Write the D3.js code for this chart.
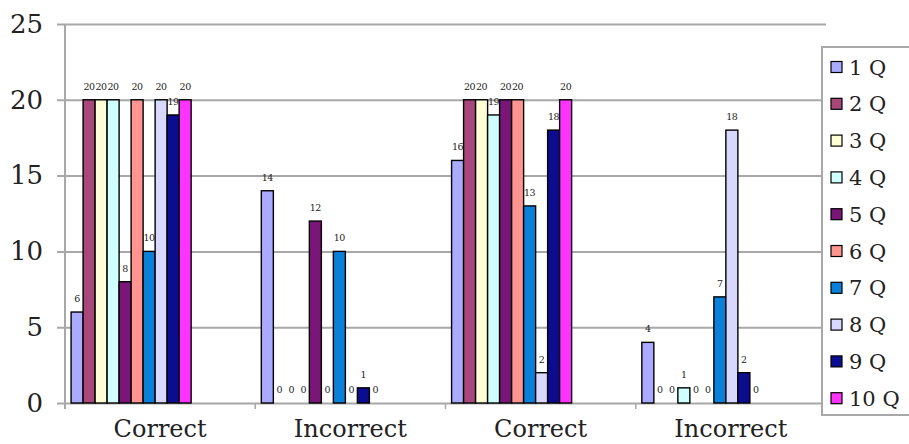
<!DOCTYPE html>
<html>
<head>
<meta charset="utf-8">
<script src="https://cdn.jsdelivr.net/npm/d3@7"></script>
<style>
  html, body { margin: 0; padding: 0; background: #fff; }
  svg { display: block; }
</style>
</head>
<body>
<script>
// groups along the x axis (the two test rounds)
const categories = ["Correct", "Incorrect", "Correct", "Incorrect"];
const series = ["1 Q", "2 Q", "3 Q", "4 Q", "5 Q", "6 Q", "7 Q", "8 Q", "9 Q", "10 Q"];
const colors = ["#aaaaff", "#a8487a", "#ffffd6", "#d0ffff", "#7a1678",
                "#ff9490", "#0a80d8", "#d8d8ff", "#0c0c90", "#ff33ff"];

// values per question for each group
const correctA   = [6, 20, 20, 20, 8, 20, 10, 20, 19, 20];
const incorrectA = [14, 0, 0, 0, 12, 0, 10, 0, 1, 0];
const correctB   = [16, 20, 20, 19, 20, 20, 13, 2, 18, 20];
const incorrectB = [4, 0, 0, 1, 0, 0, 7, 18, 2, 0];
const yTicks = [0, 5, 10, 15, 20, 25];

const groups = [correctA, incorrectA, correctB, incorrectB];

const width = 909, height = 444;
const margin = {top: 24, right: 83, bottom: 41, left: 65};
const serif = "'DejaVu Serif', serif";

const svg = d3.select("body").append("svg")
    .attr("width", width)
    .attr("height", height)
    .attr("viewBox", [0, 0, width, height]);

const x0 = d3.scaleBand()
    .domain(d3.range(categories.length))
    .range([margin.left, width - margin.right])
    .padding(0);

const x1 = d3.scaleBand()
    .domain(series)
    .range([x0.bandwidth() * 0.032, x0.bandwidth() * 0.663])
    .padding(0);

const y = d3.scaleLinear()
    .domain([0, 25])
    .range([height - margin.bottom, margin.top]);

// gridlines + y axis
const yAxis = svg.append("g")
    .attr("transform", `translate(${margin.left},0)`)
    .call(d3.axisLeft(y).tickValues(yTicks)
        .tickSize(-(width - margin.right - margin.left))
        .tickSizeOuter(0)
        .tickPadding(22));
yAxis.select(".domain").remove();
yAxis.selectAll(".tick line")
    .attr("x1", -8)
    .attr("stroke", "#a8a8a8")
    .attr("stroke-width", 2);
yAxis.selectAll(".tick text")
    .attr("font-family", serif)
    .attr("font-size", 26)
    .attr("fill", "#222");

svg.append("line")
    .attr("x1", margin.left).attr("x2", margin.left)
    .attr("y1", y(25)).attr("y2", y(0) + 6)
    .attr("stroke", "#a8a8a8")
    .attr("stroke-width", 2);

// x axis: ticks at group boundaries
const xAxis = svg.append("g")
    .attr("transform", `translate(0,${y(0)})`);
xAxis.selectAll("line.sep")
    .data(d3.range(categories.length + 1))
    .join("line")
      .attr("class", "sep")
      .attr("x1", i => margin.left + i * x0.step())
      .attr("x2", i => margin.left + i * x0.step())
      .attr("y1", 0).attr("y2", 6)
      .attr("stroke", "#a8a8a8")
      .attr("stroke-width", 1.5);
xAxis.selectAll("text")
    .data(categories)
    .join("text")
      .attr("x", (d, i) => x0(i) + x0.bandwidth() / 2)
      .attr("y", 34)
      .attr("text-anchor", "middle")
      .attr("font-family", serif)
      .attr("font-size", 24)
      .attr("fill", "#222")
      .text(d => d);

// bars
const g = svg.append("g")
  .selectAll("g")
  .data(groups)
  .join("g")
    .attr("transform", (d, i) => `translate(${x0(i)},0)`);

g.selectAll("rect")
  .data(d => d.map((v, j) => ({q: series[j], v, c: colors[j]})))
  .join("rect")
    .attr("x", d => x1(d.q))
    .attr("y", d => y(d.v))
    .attr("width", x1.bandwidth())
    .attr("height", d => y(0) - y(d.v))
    .attr("fill", d => d.c)
    .attr("stroke", "#000")
    .attr("stroke-width", 1.4);

g.selectAll("text")
  .data(d => d.map((v, j) => ({q: series[j], v})))
  .join("text")
    .attr("x", d => x1(d.q) + x1.bandwidth() / 2)
    .attr("y", d => y(d.v) - 10)
    .attr("text-anchor", "middle")
    .attr("font-family", serif)
    .attr("font-size", 9.5)
    .attr("letter-spacing", -0.4)
    .attr("fill", "#222")
    .text(d => d.v);

// legend
const legend = svg.append("g")
    .attr("transform", "translate(822,47)");
legend.append("rect")
    .attr("width", 100)
    .attr("height", 368)
    .attr("fill", "#fff")
    .attr("stroke", "#a8a8a8")
    .attr("stroke-width", 2);

const item = legend.selectAll("g.item")
  .data(series)
  .join("g")
    .attr("class", "item")
    .attr("transform", (d, i) => `translate(9,${20 + i * 36.8})`);
item.append("rect")
    .attr("y", -5.5)
    .attr("width", 11)
    .attr("height", 11)
    .attr("fill", (d, i) => colors[i])
    .attr("stroke", "#000")
    .attr("stroke-width", 1.2);
item.append("text")
    .attr("x", 18)
    .attr("dy", "0.36em")
    .attr("font-family", serif)
    .attr("font-size", 21)
    .attr("fill", "#222")
    .text(d => d);
</script>
</body>
</html>
